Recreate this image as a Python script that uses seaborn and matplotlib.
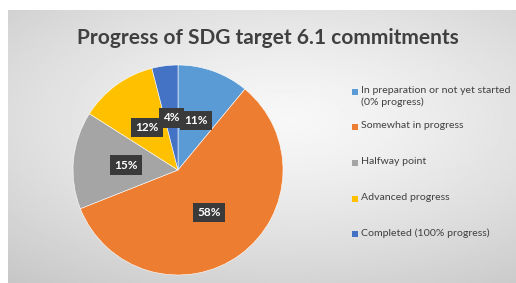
import numpy as np
import matplotlib.pyplot as plt
import seaborn as sns
from matplotlib.patches import Rectangle

sns.set_style("white")
plt.rcParams["font.family"] = ["Lato", "DejaVu Sans"]

# data
categories = [
    "In preparation or not yet started\n(0% progress)",
    "Somewhat in progress",
    "Halfway point",
    "Advanced progress",
    "Completed (100% progress)",
]
shares = [11, 58, 15, 12, 4]
colors = ["#5B9BD5", "#ED7D31", "#A5A5A5", "#FFC000", "#4472C4"]
title = "Progress of SDG target 6.1 commitments"

W, H = 516, 283
fig = plt.figure(figsize=(W / 100, H / 100), dpi=100)
fig.patch.set_facecolor("white")

# grey slide background with soft radial gradient
bg = fig.add_axes([8 / W, 0, 1 - 8 / W, 1 - 10 / H])
yy, xx = np.mgrid[0:1:200j, 0:1:300j]
dist = np.sqrt(((xx - 0.55) / 0.9) ** 2 + ((yy - 0.4) / 0.8) ** 2)
grad = 0.97 - 0.2 * np.clip(dist, 0, 1) ** 1.3
bg.imshow(grad, cmap="gray", vmin=0, vmax=1, aspect="auto", extent=[0, 1, 0, 1])
bg.set_axis_off()

fig.text(268 / W, 1 - 38 / H, title, ha="center", va="center",
         fontsize=15, fontweight="bold", color="#404040")

# pie
cx, cy, r = 178, 170, 105
ax = fig.add_axes([(cx - r) / W, (H - cy - r) / H, 2 * r / W, 2 * r / H])
wedges, texts, autotexts = ax.pie(
    shares, colors=colors, startangle=90, counterclock=False,
    autopct="%d%%", pctdistance=0.5,
    wedgeprops=dict(edgecolor="white", linewidth=0.4),
)
ax.set_xlim(-1, 1)
ax.set_ylim(-1, 1)
for t in autotexts:
    t.set_color("white")
    t.set_fontweight("bold")
    t.set_fontsize(8.5)
    t.set_bbox(dict(boxstyle="square,pad=0.35", fc="#3a3a3a", ec="none"))

# legend
ys = [92, 127, 163, 199, 234]
for lab, col, y in zip(categories, colors, ys):
    fig.patches.append(Rectangle((352 / W, 1 - (y + 3) / H), 6 / W, 6 / H,
                                 transform=fig.transFigure, fc=col, ec="none"))
    fig.text(361 / W, 1 - (y - 6) / H, lab, ha="left", va="top",
             fontsize=7.55, color="#404040", linespacing=1.35)

fig.savefig("out.png", dpi=100)
